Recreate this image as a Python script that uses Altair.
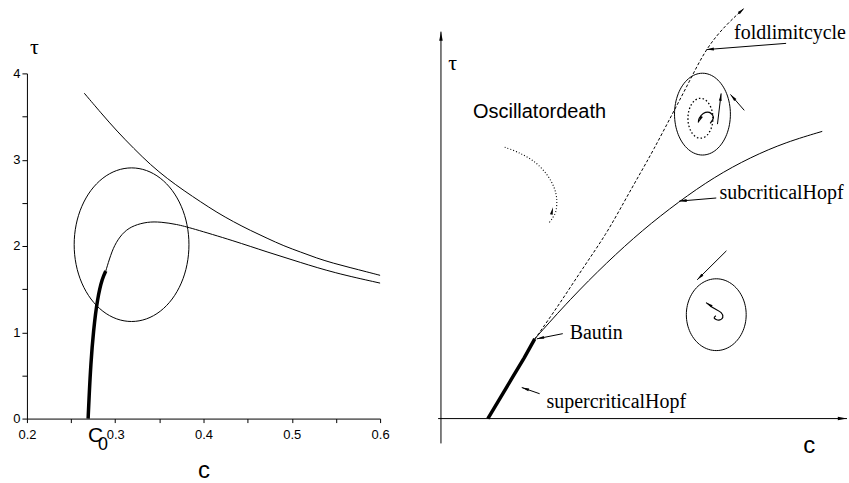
import math
import numpy as np
import pandas as pd
import altair as alt

LEFT_W, LEFT_H = 354, 346
RIGHT_W, RIGHT_H = 407, 346

# ---------------- Left panel: bifurcation curves in the (c, tau) plane ----------------
upper_c = [0.265, 0.284, 0.302, 0.321, 0.340, 0.359, 0.378, 0.397, 0.415, 0.434,
           0.453, 0.472, 0.491, 0.510, 0.528, 0.547, 0.566, 0.585, 0.600]
upper_tau = [3.77, 3.54, 3.33, 3.13, 2.94, 2.78, 2.64, 2.51, 2.39, 2.28,
             2.18, 2.09, 2.00, 1.93, 1.86, 1.80, 1.75, 1.70, 1.66]

# supercritical branch (bold) starting at c0
super_c = [0.2693, 0.2704, 0.2723, 0.2753, 0.2799, 0.2855, 0.2893]
super_tau = [0.00, 0.25, 0.63, 1.02, 1.40, 1.63, 1.71]

# subcritical continuation
sub_c = [0.2893, 0.2949, 0.3006, 0.3100, 0.3213, 0.3364, 0.3514, 0.3702, 0.3853,
         0.4343, 0.4720, 0.5096, 0.5473, 0.6000]
sub_tau = [1.71, 1.90, 2.04, 2.17, 2.24, 2.28, 2.28, 2.25, 2.21,
           2.06, 1.93, 1.81, 1.69, 1.57]

loop_center = (0.3185, 2.015)
loop_radius = (0.065, 0.89)

c_ticks = [0.2, 0.25, 0.3, 0.35, 0.4, 0.45, 0.5, 0.55, 0.6]
tau_ticks = [0, 0.5, 1, 1.5, 2, 2.5, 3, 3.5, 4]
c0_value = 0.2693

# ---------------- Right panel: schematic diagram (arbitrary units 0..10) ----------------
tau_axis_x, tau_axis_y = [0.0, 0.0], [-0.72, 11.21]
c_axis_x, c_axis_y = [-0.07, 10.0], [0.0, 0.0]

hopf_super_x = [1.155, 1.45, 1.75, 2.05, 2.31]
hopf_super_y = [0.0, 0.58, 1.17, 1.76, 2.31]

hopf_sub_x = [2.31, 3.19, 4.08, 4.96, 5.85, 6.73, 7.62, 8.50, 9.39]
hopf_sub_y = [2.31, 3.47, 4.52, 5.46, 6.28, 7.00, 7.57, 8.01, 8.32]

fold_x = [2.31, 2.92, 3.50, 4.07, 4.52, 4.89, 5.22, 5.71, 6.12, 6.53, 7.02, 7.47]
fold_y = [2.30, 3.32, 4.37, 5.34, 6.30, 7.07, 7.75, 8.85, 9.77, 10.73, 11.41, 11.89]

death_x = [1.57, 1.94, 2.31, 2.60, 2.78, 2.85, 2.83, 2.73, 2.65]
death_y = [7.86, 7.69, 7.43, 7.08, 6.71, 6.36, 6.01, 5.78, 5.66]

spiral_up_x = [6.63, 6.71, 6.61, 6.46, 6.36, 6.34]
spiral_up_y = [8.55, 8.73, 8.87, 8.84, 8.70, 8.58]
spiral_low_x = [6.77, 6.73, 6.84, 6.94, 6.90, 6.69, 6.53]
spiral_low_y = [2.98, 2.91, 2.85, 2.93, 3.07, 3.22, 3.36]

cycle_center, cycle_radius = (6.44, 8.82), (0.688, 1.185)
unstable_center, unstable_radius = (6.39, 8.70), (0.307, 0.578)
lower_center, lower_radius = (6.78, 3.01), (0.737, 1.04)

# pointer arrows: (x_tail, y_tail, x_tip, y_tip)
pointers = [
    (8.50, 10.87, 6.54, 10.69),   # fold limit cycle
    (6.78, 6.39, 5.87, 6.30),     # subcritical Hopf
    (3.00, 2.46, 2.36, 2.31),     # Bautin
    (2.43, 0.72, 1.99, 0.90),     # supercritical Hopf
    (7.47, 8.93, 7.13, 9.39),     # towards the stable cycle
    (6.81, 8.53, 6.90, 9.42),     # away from the unstable cycle
    (7.03, 4.86, 6.31, 4.02),     # towards the lower cycle
]

labels_serif = ["foldlimitcycle", "subcriticalHopf", "Bautin", "supercriticalHopf"]
labels_serif_x = [7.22, 6.86, 3.17, 2.60]
labels_serif_y = [11.01, 6.36, 2.31, 0.32]


def path_rows(name, xs, ys):
    return [{"g": name, "i": k, "x": float(x), "y": float(y)} for k, (x, y) in enumerate(zip(xs, ys))]


def ellipse_rows(name, center, radius, n=96):
    t = np.linspace(0.0, 2.0 * np.pi, n + 1)
    return path_rows(name, center[0] + radius[0] * np.cos(t), center[1] + radius[1] * np.sin(t))


# ---------------- Left chart ----------------
lx = alt.Scale(domain=[0.2, 0.6], nice=False, zero=False)
ly = alt.Scale(domain=[0, 4], nice=False, zero=False)
left_x_axis = alt.Axis(
    values=c_ticks, title="c", grid=False, tickSize=4, labelPadding=6, labelFlush=False,
    labelExpr="abs(datum.value * 10 - round(datum.value * 10)) < 0.001 ? format(datum.value, '.1f') : ''",
    labelFont="Liberation Sans", labelFontSize=13, labelColor="black",
    domainColor="black", tickColor="black",
    titleFont="Liberation Sans", titleFontSize=24, titleFontWeight="normal", titleColor="black",
    titleBaseline="alphabetic", titleY=59,
)
left_y_axis = alt.Axis(
    values=tau_ticks, title="τ", grid=False, tickSize=5, labelPadding=2, labelFlush=False,
    labelExpr="abs(datum.value - round(datum.value)) < 0.001 ? format(datum.value, 'd') : ''",
    labelFont="Liberation Sans", labelFontSize=13, labelColor="black",
    domainColor="black", tickColor="black",
    titleFont="Liberation Serif", titleFontSize=22, titleFontWeight="normal", titleColor="black",
    titleAngle=0, titleAlign="center", titleBaseline="middle", titleX=7, titleY=-27,
)


def left_enc():
    return dict(x=alt.X("x:Q", scale=lx, axis=left_x_axis),
                y=alt.Y("y:Q", scale=ly, axis=left_y_axis))


left_thin = pd.DataFrame(
    path_rows("upper", upper_c, upper_tau) + path_rows("sub", sub_c, sub_tau))
left_loop = pd.DataFrame(ellipse_rows("loop", loop_center, loop_radius))
left_bold = pd.DataFrame(path_rows("super", super_c, super_tau))

left_layers = [
    alt.Chart(left_thin).mark_line(color="black", strokeWidth=1, interpolate="basis").encode(
        detail="g:N", order="i:Q", **left_enc()),
    alt.Chart(left_loop).mark_line(color="black", strokeWidth=1).encode(
        detail="g:N", order="i:Q", **left_enc()),
    alt.Chart(left_bold).mark_line(color="black", strokeWidth=3.5, interpolate="basis").encode(
        order="i:Q", **left_enc()),
    alt.Chart(pd.DataFrame({"x": [c0_value], "y": [0.0], "t": ["C"]})).mark_text(
        font="Liberation Sans", fontSize=21, align="left", baseline="middle", dx=0, dy=17,
        color="black").encode(text="t:N", **left_enc()),
    alt.Chart(pd.DataFrame({"x": [c0_value], "y": [0.0], "t": ["0"]})).mark_text(
        font="Liberation Sans", fontSize=18, align="left", baseline="middle", dx=10, dy=26,
        color="black").encode(text="t:N", **left_enc()),
]
left = alt.layer(*left_layers).properties(width=LEFT_W, height=LEFT_H)

# ---------------- Right chart ----------------
rx = alt.Scale(domain=[0, 10], nice=False, zero=False)
ry = alt.Scale(domain=[0, 10], nice=False, zero=False)
PX_X, PX_Y = RIGHT_W / 10.0, RIGHT_H / 10.0


def right_enc():
    return dict(x=alt.X("x:Q", scale=rx, axis=None), y=alt.Y("y:Q", scale=ry, axis=None))


def heading(x0, y0, x1, y1):
    return math.degrees(math.atan2((x1 - x0) * PX_X, (y1 - y0) * PX_Y)) % 360


solid_rows = (path_rows("tau_axis", tau_axis_x, tau_axis_y)
              + path_rows("c_axis", c_axis_x, c_axis_y)
              + ellipse_rows("cycle", cycle_center, cycle_radius)
              + ellipse_rows("lower", lower_center, lower_radius))
for k, (x0, y0, x1, y1) in enumerate(pointers):
    solid_rows += path_rows(f"ptr{k}", [x0, x1], [y0, y1])

curve_rows = path_rows("hopf_sub", hopf_sub_x, hopf_sub_y)
spiral_rows = path_rows("sp_up", spiral_up_x, spiral_up_y) + path_rows("sp_low", spiral_low_x, spiral_low_y)

heads = [
    (tau_axis_x[1], tau_axis_y[1], heading(0, 0, 0, 1), 70),
    (c_axis_x[1], c_axis_y[1], heading(0, 0, 1, 0), 70),
    (fold_x[-1], fold_y[-1], heading(fold_x[-2], fold_y[-2], fold_x[-1], fold_y[-1]), 45),
    (spiral_up_x[-1], spiral_up_y[-1], heading(spiral_up_x[-3], spiral_up_y[-3], spiral_up_x[-1], spiral_up_y[-1]), 40),
    (spiral_low_x[-1], spiral_low_y[-1], heading(spiral_low_x[-3], spiral_low_y[-3], spiral_low_x[-1], spiral_low_y[-1]), 40),
    (2.76, 6.12, heading(2.68, 5.72, 2.76, 6.12), 45),
]
for (x0, y0, x1, y1) in pointers:
    heads.append((x1, y1, heading(x0, y0, x1, y1), 45))
heads_df = pd.DataFrame(heads, columns=["x", "y", "a", "s"])

ARROW = "M0,0L0.42,2.2L-0.42,2.2Z"

right_layers = [
    alt.Chart(pd.DataFrame(solid_rows)).mark_line(color="black", strokeWidth=1).encode(
        detail="g:N", order="i:Q", **right_enc()),
    alt.Chart(pd.DataFrame(curve_rows)).mark_line(color="black", strokeWidth=1, interpolate="basis").encode(
        detail="g:N", order="i:Q", **right_enc()),
    alt.Chart(pd.DataFrame(path_rows("fold", fold_x, fold_y))).mark_line(
        color="black", strokeWidth=1, strokeDash=[3, 2], interpolate="basis").encode(
        order="i:Q", **right_enc()),
    alt.Chart(pd.DataFrame(path_rows("hopf_super", hopf_super_x, hopf_super_y))).mark_line(
        color="black", strokeWidth=3.5).encode(order="i:Q", **right_enc()),
    alt.Chart(pd.DataFrame(ellipse_rows("unstable", unstable_center, unstable_radius))).mark_line(
        color="black", strokeWidth=1.3, strokeDash=[1.5, 2.2]).encode(order="i:Q", **right_enc()),
    alt.Chart(pd.DataFrame(path_rows("death", death_x, death_y))).mark_line(
        color="black", strokeWidth=1.1, strokeDash=[1, 2], interpolate="cardinal").encode(
        order="i:Q", **right_enc()),
    alt.Chart(pd.DataFrame(spiral_rows)).mark_line(
        color="black", strokeWidth=1.2, interpolate="cardinal").encode(
        detail="g:N", order="i:Q", **right_enc()),
    alt.Chart(heads_df).mark_point(shape=ARROW, filled=True, color="black", opacity=1, strokeWidth=0).encode(
        angle=alt.Angle("a:Q", scale=None), size=alt.Size("s:Q", scale=None, legend=None), **right_enc()),
    alt.Chart(pd.DataFrame({"x": labels_serif_x, "y": labels_serif_y, "t": labels_serif})).mark_text(
        font="Liberation Serif", fontSize=20, align="left", baseline="alphabetic", color="black").encode(
        text="t:N", **right_enc()),
    alt.Chart(pd.DataFrame({"x": [0.79], "y": [8.70], "t": ["Oscillatordeath"]})).mark_text(
        font="Liberation Sans", fontSize=20, align="left", baseline="alphabetic", color="black").encode(
        text="t:N", **right_enc()),
    alt.Chart(pd.DataFrame({"x": [0.29], "y": [10.29], "t": ["τ"]})).mark_text(
        font="Liberation Serif", fontSize=22, align="center", baseline="middle", color="black").encode(
        text="t:N", **right_enc()),
    alt.Chart(pd.DataFrame({"x": [9.07], "y": [-1.01], "t": ["c"]})).mark_text(
        font="Liberation Sans", fontSize=24, align="center", baseline="alphabetic", color="black").encode(
        text="t:N", **right_enc()),
]
right = alt.layer(*right_layers).properties(width=RIGHT_W, height=RIGHT_H)

chart = alt.hconcat(left, right, spacing=61, bounds="flush").properties(
    padding={"left": 12, "top": 5, "right": 0, "bottom": 0},
    background="white",
).configure_view(stroke=None)

chart.save("out.html", embed_options={"renderer": "svg", "actions": False})
